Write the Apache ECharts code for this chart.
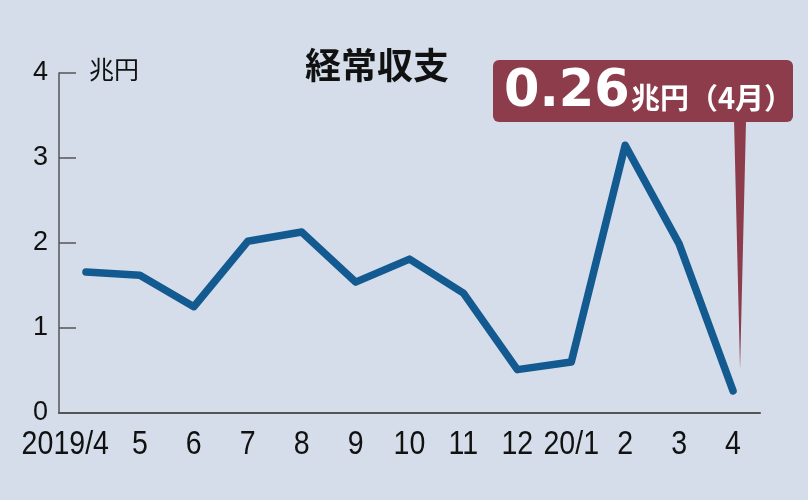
<!DOCTYPE html>
<html><head><meta charset="utf-8">
<script src="https://cdn.jsdelivr.net/npm/echarts@6/dist/echarts.min.js"></script>
<style>html,body{margin:0;padding:0;background:#d4dde9;}#c{width:808px;height:500px;}</style>
</head><body><div id="c"></div>
<script>
const categories = ['2019/4','5','6','7','8','9','10','11','12','20/1','2','3','4'];
const values = [1.66,1.62,1.25,2.02,2.13,1.54,1.81,1.41,0.51,0.60,3.15,1.99,0.26];
const yTicks = [0,1,2,3,4];
const title = '経常収支';
const unit = '兆円';
const calloutValue = '0.26';
const calloutSuffix = '兆円（4月）';

const chart = echarts.init(document.getElementById('c'), null, {renderer:'canvas'});
const fontNum = '"Liberation Sans","Noto Sans CJK JP",sans-serif';
const fontJP = '"Noto Sans CJK JP",sans-serif';
chart.setOption({
  backgroundColor:'#d4dde9',
  animation:false,
  title:{text:title,left:372,top:42,textAlign:'center',textStyle:{fontFamily:fontJP,fontSize:36,fontWeight:'bold',color:'#111'}},
  grid:{left:59,right:48,top:73,bottom:87,containLabel:false},
  xAxis:{type:'category',data:categories,boundaryGap:true,
    axisLine:{lineStyle:{color:'#555',width:2}},
    axisTick:{alignWithLabel:true,inside:true,length:9,lineStyle:{color:'#555',width:1.2}},
    axisLabel:{show:false}},
  yAxis:{type:'value',min:yTicks[0],max:yTicks[yTicks.length-1],interval:1,
    axisLine:{show:true,lineStyle:{color:'#555',width:1.5}},
    axisTick:{show:true,inside:true,length:17,lineStyle:{color:'#555',width:1.5}},
    splitLine:{show:false},
    axisLabel:{color:'#111',fontSize:27,fontFamily:fontNum,margin:11}},
  series:[{type:'line',data:values,symbol:'none',smooth:false,
    lineStyle:{color:'#135a90',width:7.5,cap:'round',join:'round'}}]
});

function drawGraphics(){
  const tip = chart.convertToPixel({gridIndex:0},[categories.length-1, values[values.length-1]]);
  const top4 = chart.convertToPixel({gridIndex:0},[0, yTicks[yTicks.length-1]]);
  const base = chart.convertToPixel({gridIndex:0},[0, yTicks[0]]);
  const boxL=493, boxT=60, boxW=300, boxH=62;
  const px = tip[0]+7;
  const g = [
    {type:'text',left:89,top:top4[1]-16,style:{text:unit,fontFamily:fontJP,fontSize:25,fill:'#111'}},
    {type:'polygon',shape:{points:[[px-6,boxT+boxH-2],[px+6,boxT+boxH-2],[px,tip[1]-22]]},style:{fill:'#8c3c4a'},z:10},
    {type:'rect',shape:{x:boxL,y:boxT,width:boxW,height:boxH,r:6},style:{fill:'#8c3c4a'},z:10},
    {type:'text',x:boxL+11,y:boxT+33,style:{text:calloutValue,fontFamily:'"DejaVu Sans",sans-serif',fontSize:51,fontWeight:'bold',fill:'#fff',textVerticalAlign:'middle'},z:11},
    {type:'text',x:boxL+138,y:boxT+38,style:{text:calloutSuffix,fontFamily:fontJP,fontSize:29,fontWeight:'bold',fill:'#fff',textVerticalAlign:'middle'},z:11}
  ];
  categories.forEach((c,i)=>{
    const p = chart.convertToPixel({gridIndex:0},[i, yTicks[0]]);
    const first = i===0;
    g.push({type:'text',x:first?p[0]+23:p[0],y:base[1]+32,scaleX:0.84,
      style:{text:c,fontFamily:fontNum,fontSize:34,fill:'#111',textAlign:first?'right':'center',textVerticalAlign:'middle'}});
  });
  chart.setOption({graphic:g});
}
drawGraphics();
</script></body></html>
